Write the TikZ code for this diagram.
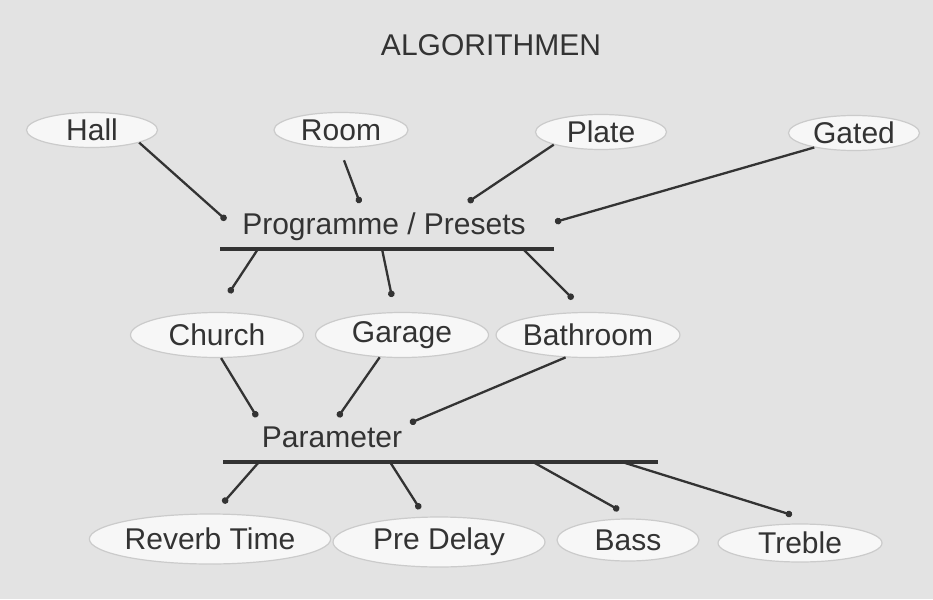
\documentclass[tikz,border=0pt]{standalone}
\usepackage{fontspec}
\setmainfont{Liberation Sans}
\usetikzlibrary{arrows.meta, shapes.geometric}

\definecolor{paper}{HTML}{E3E3E3}
\definecolor{ink}{HTML}{333333}
\definecolor{ovalfill}{HTML}{F7F7F7}
\definecolor{ovalrim}{HTML}{CBCBCB}

\begin{document}
\begin{tikzpicture}[x=1pt, y=-1pt,
        every node/.style={font=\fontsize{30}{36}\selectfont, text=ink},
        oval/.style={ellipse, draw=ovalrim, line width=1.2pt, fill=ovalfill, inner sep=0pt},
        heading/.style={inner sep=0pt},
        link/.style={draw=ink, line width=2.3pt, -{Circle[length=6.5pt]}},
        rail/.style={draw=ink, line width=4.5pt}]
            \fill [paper] (0, 0) rectangle (933, 599);

            \node [heading] (title) at (491, 45) {ALGORITHMEN};

            % Algorithmen
            \node [oval, minimum width=131pt, minimum height=35pt] (hall) at (92, 130) {Hall};
            \node [oval, minimum width=134pt, minimum height=35pt] (room) at (341, 130) {Room};
            \node [oval, minimum width=131pt, minimum height=35pt] (plate) at (601, 132) {Plate};
            \node [oval, minimum width=131pt, minimum height=35pt] (gated) at (854, 133) {Gated};

            \node [heading] (presets) at (384, 227) {Programme / Presets};
            \coordinate (railL1) at (220, 249);
            \coordinate (railR1) at (554, 249);

            % Programme
            \node [oval, minimum width=173pt, minimum height=45pt] (church) at (217, 335) {Church};
            \node [oval, minimum width=173pt, minimum height=45pt] (garage) at (402, 335) {Garage};
            \node [oval, minimum width=170pt, minimum height=45pt] (bathroom) at (588, 335) {Bathroom};

            \node [heading] (params) at (332, 437) {Parameter};
            \coordinate (railL2) at (223, 462);
            \coordinate (railR2) at (658, 462);

            % Parameter
            \node [oval, minimum width=211pt, minimum height=50pt] (reverb) at (210, 539) {Reverb Time};
            \node [oval, minimum width=212pt, minimum height=50pt] (predelay) at (439, 542) {Pre Delay};
            \node [oval, minimum width=142pt, minimum height=42pt] (bass) at (628, 540) {Bass};
            \node [oval, minimum width=164pt, minimum height=38pt] (treble) at (800, 543) {Treble};

            % Punkte
            \coordinate (hallDot) at (226, 220);
            \coordinate (roomDot) at (360, 203);
            \coordinate (plateDot) at (468, 202);
            \coordinate (gatedDot) at (555, 222);
            \coordinate (churchDot) at (229, 293);
            \coordinate (garageDot) at (392, 297);
            \coordinate (bathDot) at (573, 299);
            \coordinate (tapA) at (258, 249);
            \coordinate (tapB) at (382, 249);
            \coordinate (tapC) at (523, 249);
            \coordinate (paramDotA) at (257, 417);
            \coordinate (paramDotB) at (338, 417);
            \coordinate (paramDotC) at (410, 423);
            \coordinate (tapD) at (259, 462);
            \coordinate (tapE) at (390, 462);
            \coordinate (tapF) at (533, 462);
            \coordinate (tapG) at (622, 462);
            \coordinate (reverbDot) at (223, 503);
            \coordinate (delayDot) at (420, 509);
            \coordinate (bassDot) at (619, 510);
            \coordinate (trebleDot) at (792, 515);

            \draw [rail] (railL1) -- (railR1);
            \draw [rail] (railL2) -- (railR2);

            \draw [link] (hall.-15) -- (hallDot);
            \draw [link, shorten <=13pt] (room.-95) -- (roomDot);
            \draw [link] (plate.-165) -- (plateDot);
            \draw [link] (gated.-160) -- (gatedDot);

            \draw [link] (tapA) -- (churchDot);
            \draw [link] (tapB) -- (garageDot);
            \draw [link] (tapC) -- (bathDot);

            \draw [link] (church.-80) -- (paramDotA);
            \draw [link] (garage.-135) -- (paramDotB);
            \draw [link] (bathroom.-135) -- (paramDotC);

            \draw [link] (tapD) -- (reverbDot);
            \draw [link] (tapE) -- (delayDot);
            \draw [link] (tapF) -- (bassDot);
            \draw [link] (tapG) -- (trebleDot);
        \end{tikzpicture}
\end{document}
